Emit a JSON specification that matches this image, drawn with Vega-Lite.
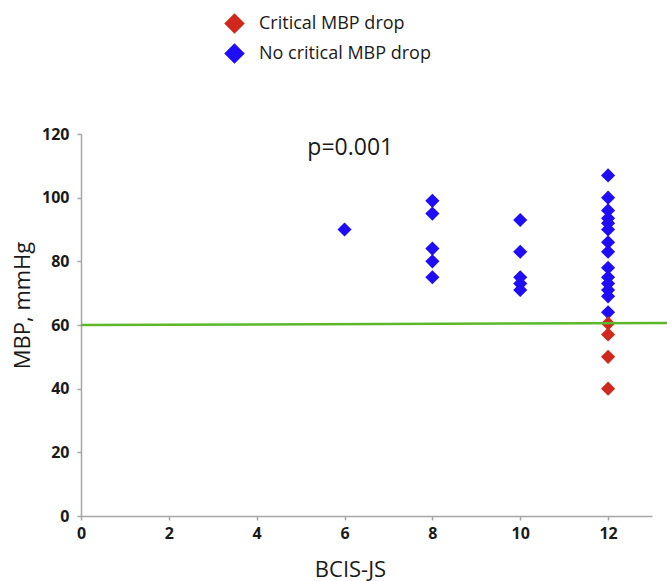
{
  "$schema": "https://vega.github.io/schema/vega-lite/v6.json",
  "width": 571,
  "height": 382,
  "autosize": {"type": "none"},
  "padding": {"left": 81, "top": 134, "right": 15, "bottom": 65},
  "background": "white",
  "config": {
    "view": {"stroke": null},
    "font": "Open Sans"
  },
  "datasets": {
    "points": [
      {"bcis": 6, "mbp": 90, "group": "No critical MBP drop"},
      {"bcis": 8, "mbp": 99, "group": "No critical MBP drop"},
      {"bcis": 8, "mbp": 95, "group": "No critical MBP drop"},
      {"bcis": 8, "mbp": 84, "group": "No critical MBP drop"},
      {"bcis": 8, "mbp": 80, "group": "No critical MBP drop"},
      {"bcis": 8, "mbp": 75, "group": "No critical MBP drop"},
      {"bcis": 10, "mbp": 93, "group": "No critical MBP drop"},
      {"bcis": 10, "mbp": 83, "group": "No critical MBP drop"},
      {"bcis": 10, "mbp": 75, "group": "No critical MBP drop"},
      {"bcis": 10, "mbp": 73, "group": "No critical MBP drop"},
      {"bcis": 10, "mbp": 71, "group": "No critical MBP drop"},
      {"bcis": 12, "mbp": 107, "group": "No critical MBP drop"},
      {"bcis": 12, "mbp": 100, "group": "No critical MBP drop"},
      {"bcis": 12, "mbp": 96, "group": "No critical MBP drop"},
      {"bcis": 12, "mbp": 93.5, "group": "No critical MBP drop"},
      {"bcis": 12, "mbp": 92, "group": "No critical MBP drop"},
      {"bcis": 12, "mbp": 90, "group": "No critical MBP drop"},
      {"bcis": 12, "mbp": 86, "group": "No critical MBP drop"},
      {"bcis": 12, "mbp": 83, "group": "No critical MBP drop"},
      {"bcis": 12, "mbp": 78, "group": "No critical MBP drop"},
      {"bcis": 12, "mbp": 75, "group": "No critical MBP drop"},
      {"bcis": 12, "mbp": 73, "group": "No critical MBP drop"},
      {"bcis": 12, "mbp": 71, "group": "No critical MBP drop"},
      {"bcis": 12, "mbp": 69, "group": "No critical MBP drop"},
      {"bcis": 12, "mbp": 64, "group": "No critical MBP drop"},
      {"bcis": 12, "mbp": 60.5, "group": "Critical MBP drop"},
      {"bcis": 12, "mbp": 57, "group": "Critical MBP drop"},
      {"bcis": 12, "mbp": 50, "group": "Critical MBP drop"},
      {"bcis": 12, "mbp": 40, "group": "Critical MBP drop"}
    ],
    "threshold": [
      {"bcis": 0, "mbp": 60},
      {"bcis": 13.35, "mbp": 60.6}
    ],
    "note": [
      {"bcis": 6.13, "mbp": 113.4, "label": "p=0.001"}
    ]
  },
  "layer": [
    {
      "data": {"name": "points"},
      "mark": {"type": "point", "shape": "diamond", "filled": true, "size": 200, "opacity": 1},
      "encoding": {
        "x": {
          "field": "bcis", "type": "quantitative",
          "scale": {"domain": [0, 13], "nice": false, "zero": true},
          "axis": {
            "values": [0, 2, 4, 6, 8, 10, 12],
            "grid": false,
            "title": "BCIS-JS",
            "titleFont": "Open Sans",
            "titleFontSize": 22,
            "titleFontWeight": "normal",
            "titleColor": "#1a1a1a",
            "titleAnchor": "start",
            "titleAlign": "center",
            "titleX": 269,
            "titleY": 60,
            "titleBaseline": "alphabetic",
            "labelFont": "Open Sans",
            "labelFontSize": 16,
            "labelFontWeight": "bold",
            "labelColor": "#1a1a1a",
            "labelPadding": 5,
            "labelFlush": false,
            "tickSize": 4,
            "tickColor": "#a6a6a6",
            "tickWidth": 1.5,
            "domainColor": "#a6a6a6",
            "domainWidth": 1.5
          }
        },
        "y": {
          "field": "mbp", "type": "quantitative",
          "scale": {"domain": [0, 120], "nice": false},
          "axis": {
            "values": [0, 20, 40, 60, 80, 100, 120],
            "grid": false,
            "title": "MBP, mmHg",
            "titleFont": "Open Sans",
            "titleFontSize": 22,
            "titleFontWeight": "normal",
            "titleColor": "#1a1a1a",
            "titleAngle": -90,
            "titleAlign": "center",
            "titleBaseline": "middle",
            "titleX": -59,
            "titleY": 171,
            "labelFont": "Open Sans",
            "labelFontSize": 16,
            "labelFontWeight": "bold",
            "labelColor": "#1a1a1a",
            "labelPadding": 8,
            "labelFlush": false,
            "tickSize": 4,
            "tickColor": "#a6a6a6",
            "tickWidth": 1.5,
            "domainColor": "#a6a6a6",
            "domainWidth": 1.5
          }
        },
        "color": {
          "field": "group", "type": "nominal",
          "scale": {"domain": ["Critical MBP drop", "No critical MBP drop"], "range": ["#d0281c", "#1f0df5"]},
          "legend": {
            "title": null,
            "orient": "none",
            "legendX": 143,
            "legendY": -121,
            "symbolType": "diamond",
            "symbolSize": 420,
            "symbolStrokeWidth": 0,
            "labelFont": "Open Sans",
            "labelFontSize": 18,
            "labelLimit": 400,
            "labelColor": "#1a1a1a",
            "labelOffset": 14,
            "rowPadding": 9,
            "padding": 0
          }
        }
      }
    },
    {
      "data": {"name": "threshold"},
      "mark": {"type": "line", "color": "#5cb82a", "strokeWidth": 2.5, "clip": false},
      "encoding": {
        "x": {"field": "bcis", "type": "quantitative"},
        "y": {"field": "mbp", "type": "quantitative"}
      }
    },
    {
      "data": {"name": "note"},
      "mark": {"type": "text", "font": "Open Sans", "fontSize": 23, "align": "center", "baseline": "alphabetic", "color": "#1a1a1a"},
      "encoding": {
        "x": {"field": "bcis", "type": "quantitative"},
        "y": {"field": "mbp", "type": "quantitative"},
        "text": {"field": "label"}
      }
    }
  ]
}
